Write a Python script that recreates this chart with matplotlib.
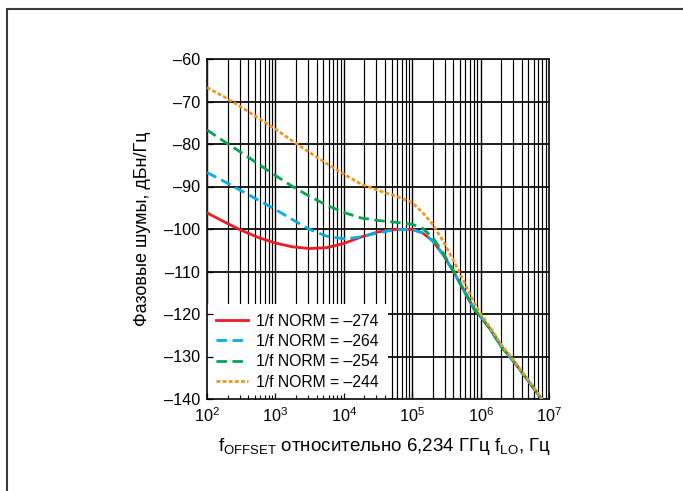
import numpy as np
import matplotlib
matplotlib.use('Agg')
import matplotlib.pyplot as plt
from matplotlib.patches import Rectangle
from matplotlib.ticker import FixedLocator, LogLocator, NullFormatter

plt.rcParams['font.family'] = ['Liberation Sans', 'DejaVu Sans']
plt.rcParams['mathtext.default'] = 'regular'
plt.rcParams['lines.scale_dashes'] = False

# offset frequency exponents (f = 10**x, Hz)
log_f = [2.0, 2.25, 2.5, 2.75, 3.0, 3.25, 3.5, 3.75, 4.0, 4.25, 4.5, 4.75, 5.0,
         5.15, 5.3, 5.45, 5.6, 5.75, 5.9, 6.0, 6.15, 6.3, 6.5, 6.7, 6.9]

# phase noise, dBc/Hz
pn_274 = [-96.2, -98.3, -100.3, -102.0, -103.3, -104.2, -104.6, -104.4, -103.4, -101.9, -100.7, -100.1, -100.1,
          -100.9, -102.8, -106.0, -109.9, -114.3, -118.7, -120.6, -123.8, -127.6, -131.5, -135.8, -140.2]
pn_264 = [-86.7, -88.8, -91.0, -93.2, -95.4, -97.8, -100.1, -101.7, -102.3, -101.9, -100.9, -100.2, -100.1,
          -100.9, -102.8, -106.0, -109.9, -114.3, -118.7, -120.6, -123.8, -127.6, -131.5, -135.8, -140.2]
pn_254 = [-76.7, -79.4, -82.0, -84.7, -87.4, -90.0, -92.3, -94.4, -96.1, -97.4, -98.0, -98.4, -98.9,
          -99.8, -102.0, -105.6, -109.7, -114.2, -118.7, -120.6, -123.8, -127.6, -131.5, -135.8, -140.2]
pn_244 = [-66.7, -68.9, -71.3, -73.9, -76.5, -79.3, -82.0, -84.6, -87.1, -89.4, -90.9, -92.2, -93.8,
          -96.1, -98.9, -102.8, -107.3, -112.2, -117.2, -120.0, -123.4, -127.2, -131.3, -135.6, -140.0]

labels = ['1/f NORM = \u2013274', '1/f NORM = \u2013264', '1/f NORM = \u2013254', '1/f NORM = \u2013244']
y_ticks = [-60, -70, -80, -90, -100, -110, -120, -130, -140]
y_ticklabels = ['\u2013' + str(abs(v)) for v in y_ticks]

freq = 10 ** np.array(log_f)

fig = plt.figure(figsize=(6.83, 4.91), dpi=100)
ax = fig.add_axes([207 / 683, 1 - 399 / 491, 342 / 683, 340 / 491])

# frame around the figure
fig.add_artist(Rectangle((7 / 683, -0.1), 1.2, 1 - 9 / 491 + 0.1, transform=fig.transFigure,
                         fill=False, edgecolor='#3c3c3c', lw=1.5))

# grid drawn by hand so the legend can sit over it while ticks stay on top
for d in range(2, 7):
    for m in range(1, 10):
        ax.axvline(m * 10 ** d, color='black', lw=1.0 if m == 1 else 0.85, zorder=1)
for v in y_ticks:
    ax.axhline(v, color='#1a1a1a', lw=1.4, zorder=1)

ax.plot(freq, pn_274, color='#ed1c24', lw=2.0, label=labels[0], zorder=3)
ax.plot(freq, pn_264, color='#00aeef', lw=2.0, dashes=(7.5, 4), label=labels[1], zorder=3)
ax.plot(freq, pn_254, color='#00a651', lw=2.0, dashes=(7.5, 4), label=labels[2], zorder=3)
ax.plot(freq, pn_244, color='#f7941d', lw=2.0, dashes=(2.8, 1.6), label=labels[3], zorder=3)

ax.set_xscale('log')
ax.set_xlim(1e2, 1e7)
ax.set_ylim(-140, -60)
ax.yaxis.set_major_locator(FixedLocator(y_ticks))
ax.set_yticklabels(y_ticklabels)
ax.xaxis.set_major_locator(LogLocator(base=10, numticks=10))
ax.xaxis.set_minor_locator(LogLocator(base=10, subs=np.arange(2, 10), numticks=20))
ax.xaxis.set_minor_formatter(NullFormatter())
ax.set_axisbelow(False)

ax.tick_params(which='both', direction='in', top=False, right=False, labelsize=11.7, colors='black')
ax.tick_params(which='major', length=4, width=0.9, pad=5)
ax.tick_params(which='minor', length=3, width=0.8)
for s in ax.spines.values():
    s.set_linewidth(1.3)
    s.set_color('#1a1a1a')

ax.set_ylabel('Фазовые шумы, дБн/Гц', fontsize=13, labelpad=9)
ax.set_xlabel('f$_{OFFSET}$ относительно 6,234 ГГц f$_{LO}$, Гц', fontsize=13.5, labelpad=8)
ax.xaxis.set_label_coords(0.52, -0.11)

leg = ax.legend(loc='lower left', bbox_to_anchor=(0, 0), borderaxespad=0, fontsize=11.3,
                frameon=True, fancybox=False, framealpha=1, edgecolor='none', facecolor='white',
                handlelength=2.0, handletextpad=0.5, labelspacing=0.34, borderpad=0.6)
leg.set_zorder(2)

fig.savefig('out.png', dpi=100)
